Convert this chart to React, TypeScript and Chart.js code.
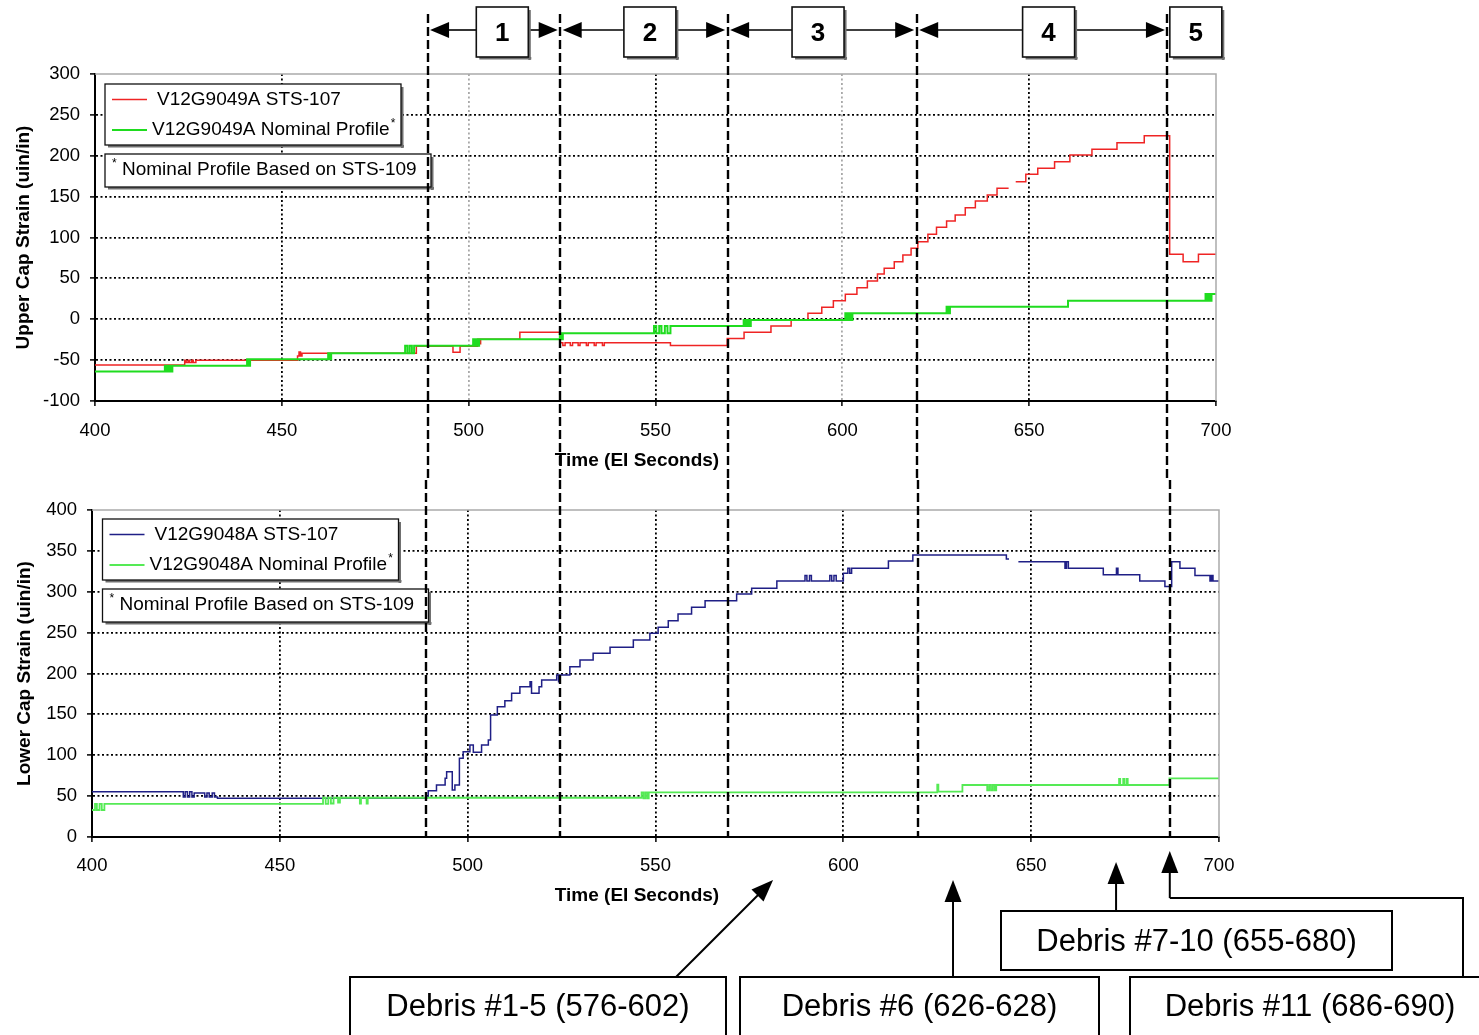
import React, { useEffect, useRef } from 'react';
import { Chart, registerables } from 'chart.js';

Chart.register(...registerables);

const FONT = "'Liberation Sans', Arial, Helvetica, sans-serif";

// ---------------- axes ----------------
const X_MIN = 400;
const X_MAX = 700;
const X_STEP = 50;
const UPPER_Y_MIN = -100;
const UPPER_Y_MAX = 300;
const LOWER_Y_MIN = 0;
const LOWER_Y_MAX = 400;
const Y_STEP = 50;

const UPPER_Y_TITLE = 'Upper Cap Strain (uin/in)';
const LOWER_Y_TITLE = 'Lower Cap Strain (uin/in)';
const X_TITLE = 'Time (EI Seconds)';

// ---------------- series labels ----------------
const UPPER_ACTUAL_LABEL = 'V12G9049A STS-107';
const UPPER_NOMINAL_LABEL = 'V12G9049A Nominal Profile*';
const LOWER_ACTUAL_LABEL = 'V12G9048A STS-107';
const LOWER_NOMINAL_LABEL = 'V12G9048A Nominal Profile*';
const NOTE_TEXT = 'Nominal Profile Based on STS-109';

// ---------------- upper cap: STS-107 (time, strain) ----------------
const UPPER_ACTUAL_T = [
  400, 424.0, 424.4, 424.9, 425.3, 425.9, 426.3, 427.0, 454.2, 454.6, 455.0, 455.4,
  486.0, 495.8, 497.7, 502.4, 502.8, 503.2, 513.7, 524.4, 525.2, 525.8, 527.2, 527.8,
  529.3, 529.8, 531.5, 532.0, 533.6, 534.1, 535.8, 536.3, 554.0, 569.2, 573.7, 580.9,
  586.3, 590.8, 594.5, 597.6, 600.8, 603.9, 606.7, 609.4, 611.2, 613.9, 616.2, 618.4,
  620.2, 622.9, 625.2, 627.9, 630.2, 632.9, 635.6, 638.8, 641.4, 644.5, 644.6, 646.4,
  649.1, 652.3, 656.8, 660.9, 666.8, 673.5, 680.8, 687.6, 691.2, 695.3, 700,
];
const UPPER_ACTUAL_V: (number | null)[] = [
  -56, -50, -53, -50, -53, -50, -53, -50, -45, -40, -45, -41.7,
  -33, -40.5, -33, -24.5, -30, -24.5, -16, -28.6, -32, -28.6, -32, -28.6,
  -32, -28.6, -32, -28.6, -32, -28.6, -32, -28.6, -32, -23.4, -16, -8.3,
  -1, 7.2, 14.6, 22.7, 30.5, 38.6, 46.8, 55.3, 62.3, 70.4, 78.6, 86.8,
  94.9, 103.9, 112.4, 120.2, 127.5, 136.5, 144.6, 152, 160.2, 160.2, null, 168.3,
  177.3, 184.6, 192.8, 200.9, 207.9, 216, 224.5, 79.4, 70.4, 79.4, 79.4,
];

// ---------------- upper cap: nominal profile ----------------
const UPPER_NOMINAL_T = [
  400, 418.7, 419.2, 419.7, 420.2, 420.7, 440.7, 441.1, 441.5, 462.4, 462.8, 463.2,
  483.0, 483.6, 484.2, 484.8, 485.4, 501.2, 501.6, 502.0, 502.4, 502.8, 524.4, 524.8,
  525.2, 549.6, 550.2, 551.0, 551.6, 552.5, 553.2, 554.0, 573.6, 574.0, 574.5, 575.0,
  575.5, 600.8, 601.2, 601.7, 602.2, 602.7, 627.9, 628.3, 628.8, 660.4, 697.2, 697.6,
  698.0, 698.4, 698.8, 700,
];
const UPPER_NOMINAL_V = [
  -64, -57, -64, -57, -64, -57, -49, -57, -49, -41.7, -49, -41.7,
  -32.5, -41.7, -32.5, -41.7, -32.5, -24.5, -32.5, -24.5, -32.5, -24.5, -17.2, -24.5,
  -17.2, -8.3, -17.2, -8.3, -17.2, -8.3, -17.2, -8.3, -1, -8.3, -1, -8.3,
  -1, 7.3, -1, 7.3, -1, 7.3, 15.4, 7.3, 15.4, 22.7, 30.9, 22.7,
  30.9, 22.7, 30.9, 30.9,
];

// ---------------- lower cap: STS-107 ----------------
const LOWER_ACTUAL_T = [
  400, 424.3, 424.8, 425.4, 426.0, 426.6, 427.2, 430.0, 430.6, 431.2, 432.0, 432.6,
  433.4, 489.1, 489.5, 491.7, 494.0, 494.4, 495.9, 496.6, 497.8, 498.8, 500.6, 501.5,
  503.7, 505.5, 506.1, 507.9, 509.9, 511.7, 513.9, 516.6, 517.0, 519.0, 519.7, 523.7,
  524.2, 524.6, 527.2, 529.9, 533.4, 537.9, 544.1, 548.5, 550.7, 553.4, 556.0, 559.6,
  563.2, 571.6, 575.6, 582.3, 589.8, 590.3, 591.0, 591.5, 596.4, 596.9, 597.5, 598.1,
  600.0, 601.2, 601.7, 602.2, 612.0, 618.5, 643.4, 644.1, 644.2, 646.6, 659.0, 659.4,
  659.9, 669.2, 672.7, 673.1, 678.9, 685.6, 687.4, 689.6, 693.6, 697.6, 698.0, 698.4,
  700,
];
const LOWER_ACTUAL_V: (number | null)[] = [
  55.5, 49, 55.5, 49, 55.5, 49, 53.8, 49, 53.8, 49, 53.8, 49,
  47.5, 49.3, 56.7, 63.6, 71.8, 79.9, 57.5, 63.6, 96.3, 104.4, 112.5, 103.6,
  112.5, 118.7, 149.2, 159.4, 166.7, 175.8, 183.9, 190, 175.8, 183.9, 192, 198.2,
  190, 198.2, 208.2, 216.5, 224.7, 232, 241, 249.2, 256.5, 264.6, 272.8, 281,
  289, 297.2, 304.2, 313.1, 320, 313.1, 320, 313.1, 320, 313.1, 320, 313.1,
  322.5, 328.7, 322.5, 328.7, 337.6, 345, 340, 340, null, 336.8, 328.7, 336.8,
  328.7, 320.7, 328.7, 320.7, 313.1, 306.3, 336.8, 328.7, 320, 313, 320, 313,
  313,
];

// ---------------- lower cap: nominal profile ----------------
const LOWER_NOMINAL_T = [
  400, 400.8, 401.3, 402.0, 402.6, 403.3, 461.5, 462.2, 462.9, 463.6, 464.3, 465.5,
  466.0, 471.3, 471.6, 473.1, 473.4, 546.3, 546.8, 547.3, 547.8, 548.2, 625.0, 625.3,
  631.7, 638.3, 638.8, 639.3, 639.8, 640.3, 640.7, 673.4, 673.7, 674.5, 674.8, 675.4,
  675.7, 686.8, 700,
];
const LOWER_NOMINAL_V = [
  33, 40.4, 33, 40.4, 33, 40.4, 48, 40.4, 48, 41, 48, 42,
  48, 41, 48, 41, 48, 54.7, 47.3, 54.7, 47.3, 54.7, 64, 55.5,
  63.6, 57, 63.6, 57, 63.6, 57, 63.6, 71, 63.6, 71, 63.6, 71,
  63.6, 71.8, 71.8,
];

// ---------------- annotations ----------------
const PHASE_BOUNDS = [489, 524.5, 569.3, 619.9, 687];
const PHASE_LABELS = ['1', '2', '3', '4', '5'];
const PHASE_LABEL_X = [509, 548.5, 593.5, 655.2, 694.6];
const DEBRIS_LABELS = ['Debris #1-5 (576-602)', 'Debris #6 (626-628)', 'Debris #7-10 (655-680)', 'Debris #11 (686-690)'];
const DEBRIS_TIMES = [581.3, 629.2, 672.6, 686.9];

// ---------------- styles ----------------
const RED = '#ef2424';
const GREEN_UP = '#1fdc1f';
const BLUE = '#1f1f86';
const GREEN_LOW = '#55ea55';
const GRID_DARK = '#000';
const GRID_LIGHT = '#a8a8a8';
const UPPER_LIGHT_X = [500, 600];

type Pt = { x: number; y: number | null };
const toPoints = (t: number[], v: (number | null)[]): Pt[] => t.map((x, i) => ({ x, y: v[i] }));

function line(ctx: CanvasRenderingContext2D, x1: number, y1: number, x2: number, y2: number) {
  ctx.beginPath();
  ctx.moveTo(x1, y1);
  ctx.lineTo(x2, y2);
  ctx.stroke();
}

function arrowHead(ctx: CanvasRenderingContext2D, tx: number, ty: number, dx: number, dy: number, len: number, half: number) {
  const bx = tx - dx * len;
  const by = ty - dy * len;
  const px = -dy;
  const py = dx;
  ctx.beginPath();
  ctx.moveTo(tx, ty);
  ctx.lineTo(bx + px * half, by + py * half);
  ctx.lineTo(bx - px * half, by - py * half);
  ctx.closePath();
  ctx.fill();
}

function arrow(ctx: CanvasRenderingContext2D, x1: number, y1: number, tx: number, ty: number) {
  const L = Math.hypot(tx - x1, ty - y1);
  const dx = (tx - x1) / L;
  const dy = (ty - y1) / L;
  const len = 22;
  line(ctx, x1, y1, tx - dx * len * 0.9, ty - dy * len * 0.9);
  arrowHead(ctx, tx, ty, dx, dy, len, 8.5);
}

function starText(ctx: CanvasRenderingContext2D, text: string, x: number, y: number, size: number) {
  ctx.font = `${size}px ${FONT}`;
  ctx.fillStyle = '#000';
  ctx.textAlign = 'left';
  ctx.textBaseline = 'middle';
  const star = text.endsWith('*');
  const main = star ? text.slice(0, -1) : text;
  ctx.fillText(main, x, y);
  if (star) {
    const w = ctx.measureText(main).width;
    ctx.font = `${Math.round(size * 0.65)}px ${FONT}`;
    ctx.fillText('*', x + w + 1, y - 6);
  }
}

function shadowBox(ctx: CanvasRenderingContext2D, x: number, y: number, w: number, h: number, lw: number) {
  ctx.fillStyle = '#707070';
  ctx.fillRect(x + 3, y + h, w, 2.5);
  ctx.fillRect(x + w, y + 3, 2.5, h);
  ctx.fillStyle = '#fff';
  ctx.fillRect(x, y, w, h);
  ctx.strokeStyle = '#111';
  ctx.lineWidth = lw;
  ctx.strokeRect(x, y, w, h);
}

function drawLegend(ctx: CanvasRenderingContext2D, chart: any, x: number, y: number) {
  const ds = chart.data.datasets;
  shadowBox(ctx, x, y, 296, 61, 1.3);
  const textDx = [52, 47];
  ds.forEach((d: any, i: number) => {
    const ly = y + 15.5 + i * 30.5;
    ctx.strokeStyle = d.borderColor;
    ctx.lineWidth = d.borderWidth;
    line(ctx, x + 7, ly, x + 42, ly);
    starText(ctx, d.label, x + textDx[i], ly, 19);
  });
  const ny = y + 70;
  shadowBox(ctx, x, ny, 326, 33, 1.3);
  ctx.fillStyle = '#000';
  ctx.font = `12px ${FONT}`;
  ctx.textBaseline = 'middle';
  ctx.textAlign = 'left';
  ctx.fillText('*', x + 7, ny + 10);
  ctx.font = `19px ${FONT}`;
  ctx.fillText(NOTE_TEXT, x + 17, ny + 15.5);
}

function drawFrame(ctx: CanvasRenderingContext2D, a: any) {
  ctx.strokeStyle = '#ababab';
  ctx.lineWidth = 1.5;
  ctx.beginPath();
  ctx.moveTo(a.left, a.top);
  ctx.lineTo(a.right, a.top);
  ctx.lineTo(a.right, a.bottom);
  ctx.stroke();
}

function drawXTitle(ctx: CanvasRenderingContext2D, a: any, dy: number) {
  ctx.fillStyle = '#000';
  ctx.font = `bold 19px ${FONT}`;
  ctx.textAlign = 'center';
  ctx.textBaseline = 'middle';
  ctx.fillText(X_TITLE, (a.left + a.right) / 2 - 18.5, a.bottom + dy);
}

function drawDashed(ctx: CanvasRenderingContext2D, xs: any, y1: number, y2: number) {
  ctx.save();
  ctx.setLineDash([9, 4]);
  ctx.strokeStyle = '#000';
  ctx.lineWidth = 2.4;
  PHASE_BOUNDS.forEach((b) => {
    const px = Math.round(xs.getPixelForValue(b));
    line(ctx, px, y1, px, y2);
  });
  ctx.restore();
}

function makeOverlay(kind: 'upper' | 'lower') {
  return {
    id: 'overlay_' + kind,
    afterDatasetsDraw(chart: any) {
      const ctx: CanvasRenderingContext2D = chart.ctx;
      const a = chart.chartArea;
      const xs = chart.scales.x;
      ctx.save();
      drawFrame(ctx, a);
      drawLegend(ctx, chart, a.left + (kind === 'upper' ? 10 : 10.5), a.top + (kind === 'upper' ? 10 : 9));
      if (kind === 'upper') {
        drawXTitle(ctx, a, 60);
        const rowY = 30;
        for (let i = 0; i < PHASE_BOUNDS.length - 1; i++) {
          const xa = xs.getPixelForValue(PHASE_BOUNDS[i]) + 2.5;
          const xb = xs.getPixelForValue(PHASE_BOUNDS[i + 1]) - 2.5;
          const cx = xs.getPixelForValue(PHASE_LABEL_X[i]);
          ctx.strokeStyle = '#000';
          ctx.fillStyle = '#000';
          ctx.lineWidth = 1.6;
          line(ctx, xa + 16, rowY, cx - 26, rowY);
          line(ctx, cx + 26, rowY, xb - 16, rowY);
          arrowHead(ctx, xa, rowY, -1, 0, 19, 8);
          arrowHead(ctx, xb, rowY, 1, 0, 19, 8);
        }
        PHASE_LABELS.forEach((lab, i) => {
          const cx = xs.getPixelForValue(PHASE_LABEL_X[i]);
          shadowBox(ctx, cx - 26, 7, 52, 50, 1.6);
          ctx.fillStyle = '#000';
          ctx.font = `bold 26px ${FONT}`;
          ctx.textAlign = 'center';
          ctx.textBaseline = 'middle';
          ctx.fillText(lab, cx, 34);
        });
        drawDashed(ctx, xs, 14, chart.height);
      } else {
        drawXTitle(ctx, a, 59);
        drawDashed(ctx, xs, 0, a.bottom + 1);
        const tips = DEBRIS_TIMES.map((t) => xs.getPixelForValue(t));
        const tipY = [a.bottom + 43, a.bottom + 43, a.bottom + 25, a.bottom + 14];
        const boxes = [
          { x: 350, y: a.bottom + 140, w: 376, h: 80 },
          { x: 740, y: a.bottom + 140, w: 359, h: 80 },
          { x: 1001, y: a.bottom + 74, w: 391, h: 59 },
          { x: 1130, y: a.bottom + 140, w: 360, h: 80 },
        ];
        ctx.strokeStyle = '#000';
        ctx.fillStyle = '#000';
        ctx.lineWidth = 2;
        arrow(ctx, 676, boxes[0].y, tips[0], tipY[0]);
        arrow(ctx, tips[1], boxes[1].y, tips[1], tipY[1]);
        arrow(ctx, tips[2], boxes[2].y, tips[2], tipY[2]);
        const elbowY = a.bottom + 61;
        ctx.beginPath();
        ctx.moveTo(1463, boxes[3].y);
        ctx.lineTo(1463, elbowY);
        ctx.lineTo(tips[3], elbowY);
        ctx.stroke();
        arrow(ctx, tips[3], elbowY, tips[3], tipY[3]);
        boxes.forEach((b, i) => {
          ctx.fillStyle = '#fff';
          ctx.fillRect(b.x, b.y, b.w, b.h);
          ctx.strokeStyle = '#000';
          ctx.lineWidth = 2;
          ctx.strokeRect(b.x, b.y, b.w, b.h);
          ctx.fillStyle = '#000';
          ctx.font = `31px ${FONT}`;
          ctx.textAlign = 'center';
          ctx.textBaseline = 'middle';
          const cy = i === 2 ? b.y + 31 : b.y + 30;
          ctx.fillText(DEBRIS_LABELS[i], b.x + b.w / 2, cy);
        });
      }
      ctx.restore();
    },
  };
}

function makeConfig(kind: 'upper' | 'lower'): any {
  const upper = kind === 'upper';
  const datasets: any[] = upper
    ? [
        { label: UPPER_ACTUAL_LABEL, data: toPoints(UPPER_ACTUAL_T, UPPER_ACTUAL_V), borderColor: RED, borderWidth: 1.5, order: 2 },
        { label: UPPER_NOMINAL_LABEL, data: toPoints(UPPER_NOMINAL_T, UPPER_NOMINAL_V), borderColor: GREEN_UP, borderWidth: 2, order: 1 },
      ]
    : [
        { label: LOWER_ACTUAL_LABEL, data: toPoints(LOWER_ACTUAL_T, LOWER_ACTUAL_V), borderColor: BLUE, borderWidth: 1.5, order: 2 },
        { label: LOWER_NOMINAL_LABEL, data: toPoints(LOWER_NOMINAL_T, LOWER_NOMINAL_V), borderColor: GREEN_LOW, borderWidth: 1.8, order: 1 },
      ];
  datasets.forEach((d) =>
    Object.assign(d, { stepped: true, pointRadius: 0, fill: false, tension: 0, spanGaps: false, backgroundColor: d.borderColor })
  );
  const yMin = upper ? UPPER_Y_MIN : LOWER_Y_MIN;
  const yMax = upper ? UPPER_Y_MAX : LOWER_Y_MAX;
  const tickFont = { family: FONT, size: 18.5 };
  return {
    type: 'line',
    data: { datasets },
    options: {
      responsive: false,
      maintainAspectRatio: false,
      animation: false,
      events: [],
      layout: {
        padding: upper ? { left: 0, top: 74, right: 263, bottom: 0 } : { left: 0, top: 30, right: 260, bottom: 119 },
      },
      plugins: { legend: { display: false }, tooltip: { enabled: false }, title: { display: false } },
      scales: {
        x: {
          type: 'linear',
          min: X_MIN,
          max: X_MAX,
          afterFit: (s: any) => {
            s.height = 79;
          },
          ticks: { stepSize: X_STEP, padding: upper ? 14 : 13, color: '#000', font: tickFont, maxRotation: 0, autoSkip: false },
          grid: {
            color: (c: any) => {
              const v = c.tick ? c.tick.value : null;
              if (v === X_MIN || v === X_MAX || v === null) return 'rgba(0,0,0,0)';
              if (upper && UPPER_LIGHT_X.includes(v)) return GRID_LIGHT;
              return GRID_DARK;
            },
            lineWidth: 1.8,
            tickLength: 5,
            tickColor: '#000',
            tickWidth: 1.5,
          },
          border: { display: true, color: '#000', width: 2, dash: [2, 2.5] },
          title: { display: false },
        },
        y: {
          type: 'linear',
          min: yMin,
          max: yMax,
          afterFit: (s: any) => {
            s.width = upper ? 95 : 92;
          },
          ticks: { stepSize: Y_STEP, padding: 10, color: '#000', font: tickFont, autoSkip: false },
          grid: {
            color: (c: any) => {
              const v = c.tick ? c.tick.value : null;
              if (v === yMin || v === yMax || v === null) return 'rgba(0,0,0,0)';
              return GRID_DARK;
            },
            lineWidth: 1.8,
            tickLength: 5,
            tickColor: '#000',
            tickWidth: 1.5,
          },
          border: { display: true, color: '#000', width: 2, dash: [2, 2.5] },
          title: {
            display: true,
            text: upper ? UPPER_Y_TITLE : LOWER_Y_TITLE,
            color: '#000',
            font: { family: FONT, size: 19, weight: 'bold' },
            padding: { top: upper ? 12 : 13.5, bottom: 0 },
          },
        },
      },
    },
    plugins: [makeOverlay(kind)],
  };
}

export default function App() {
  const topRef = useRef<HTMLCanvasElement | null>(null);
  const botRef = useRef<HTMLCanvasElement | null>(null);

  useEffect(() => {
    const charts: Chart[] = [];
    if (topRef.current) charts.push(new Chart(topRef.current, makeConfig('upper')));
    if (botRef.current) charts.push(new Chart(botRef.current, makeConfig('lower')));
    return () => {
      charts.forEach((c) => c.destroy());
    };
  }, []);

  return (
    <div style={{ position: 'absolute', left: 0, top: 0, width: 1479, height: 1035, background: '#fff', overflow: 'hidden' }}>
      <canvas
        ref={topRef}
        width={1479}
        height={480}
        style={{ position: 'absolute', left: 0, top: 0, width: 1479, height: 480, display: 'block' }}
      />
      <canvas
        ref={botRef}
        width={1479}
        height={555}
        style={{ position: 'absolute', left: 0, top: 480, width: 1479, height: 555, display: 'block' }}
      />
    </div>
  );
}
